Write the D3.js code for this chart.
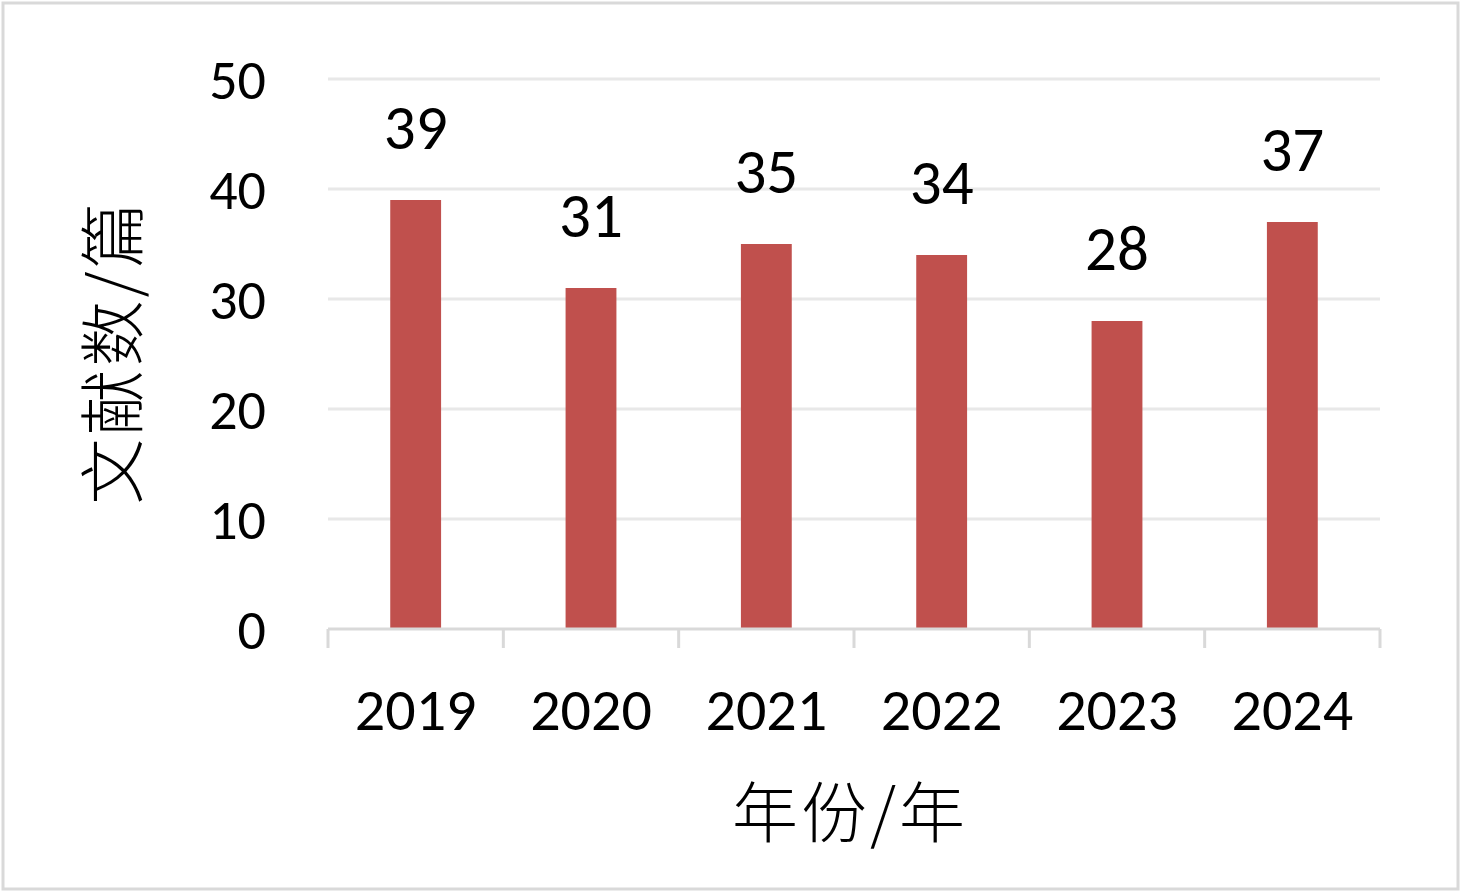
<!DOCTYPE html>
<html>
<head>
<meta charset="utf-8">
<script src="https://cdn.jsdelivr.net/npm/d3@7"></script>
<style>
  html, body { margin: 0; padding: 0; background: #fff; }
  svg { display: block; }
</style>
</head>
<body>
<svg id="chart" width="1461" height="892"></svg>
<script>
const categories = ["2019", "2020", "2021", "2022", "2023", "2024"];
const values = [39, 31, 35, 34, 28, 37];
const yTicks = [0, 10, 20, 30, 40, 50];
const yTitle = "文献数/篇";
const xTitle = "年份/年";

const svg = d3.select("#chart");
const W = 1461, H = 892;
const plot = { left: 328, right: 1380, top: 79, bottom: 629 };
const numFont = "Carlito, Lato, 'Open Sans', sans-serif";
const cjkFont = "'Noto Sans CJK SC', sans-serif";

// outer border
svg.append("rect")
  .attr("x", 3).attr("y", 3).attr("width", W - 6).attr("height", H - 6)
  .attr("fill", "#fff").attr("stroke", "#d9d9d9").attr("stroke-width", 3);

const x = d3.scaleBand().domain(categories)
  .range([plot.left, plot.right])
  .paddingInner(0.71).paddingOuter(0.355);
const xCell = d3.scaleBand().domain(categories).range([plot.left, plot.right]);
const y = d3.scaleLinear().domain([0, 50]).range([plot.bottom, plot.top]);

// gridlines
svg.append("g").selectAll("line").data(yTicks.filter(d => d > 0)).join("line")
  .attr("x1", plot.left).attr("x2", plot.right)
  .attr("y1", d => y(d)).attr("y2", d => y(d))
  .attr("stroke", "#e8e8e8").attr("stroke-width", 3);

// y labels
svg.append("g").selectAll("text").data(yTicks).join("text")
  .attr("x", 266).attr("y", d => y(d) + 1)
  .attr("text-anchor", "end").attr("dominant-baseline", "central")
  .attr("font-family", numFont).attr("font-size", 56).attr("fill", "#000")
  .text(d => d);

// bars
svg.append("g").selectAll("rect").data(values).join("rect")
  .attr("x", (d, i) => x(categories[i]))
  .attr("width", x.bandwidth())
  .attr("y", d => y(d))
  .attr("height", d => y(0) - y(d))
  .attr("fill", "#c0504d");

// value labels
svg.append("g").selectAll("text").data(values).join("text")
  .attr("x", (d, i) => x(categories[i]) + x.bandwidth() / 2)
  .attr("y", d => y(d) - 51)
  .attr("text-anchor", "middle")
  .attr("font-family", numFont).attr("font-size", 63).attr("fill", "#000")
  .text(d => d);

// x axis line and ticks
const axisG = svg.append("g");
axisG.append("line")
  .attr("x1", plot.left).attr("x2", plot.right)
  .attr("y1", plot.bottom).attr("y2", plot.bottom)
  .attr("stroke", "#d9d9d9").attr("stroke-width", 3);
const boundaries = categories.map(c => xCell(c)).concat([plot.right]);
axisG.selectAll("line.tick").data(boundaries).join("line")
  .attr("class", "tick")
  .attr("x1", d => d).attr("x2", d => d)
  .attr("y1", plot.bottom).attr("y2", plot.bottom + 19)
  .attr("stroke", "#d9d9d9").attr("stroke-width", 3);

// x labels
svg.append("g").selectAll("text").data(categories).join("text")
  .attr("x", d => xCell(d) + xCell.bandwidth() / 2)
  .attr("y", 730)
  .attr("text-anchor", "middle")
  .attr("font-family", numFont).attr("font-size", 60).attr("fill", "#000")
  .text(d => d);

// axis titles
svg.append("text")
  .attr("x", 850).attr("y", 808)
  .attr("text-anchor", "middle").attr("dominant-baseline", "central")
  .attr("font-family", cjkFont).attr("font-size", 66).attr("font-weight", 300)
  .attr("letter-spacing", 3).attr("fill", "#000")
  .text(xTitle);

svg.append("text")
  .attr("transform", "translate(108,352) rotate(-90)")
  .attr("text-anchor", "middle").attr("dominant-baseline", "central")
  .attr("font-family", cjkFont).attr("font-size", 66).attr("font-weight", 300)
  .attr("letter-spacing", 3).attr("fill", "#000")
  .text(yTitle);
</script>
</body>
</html>
